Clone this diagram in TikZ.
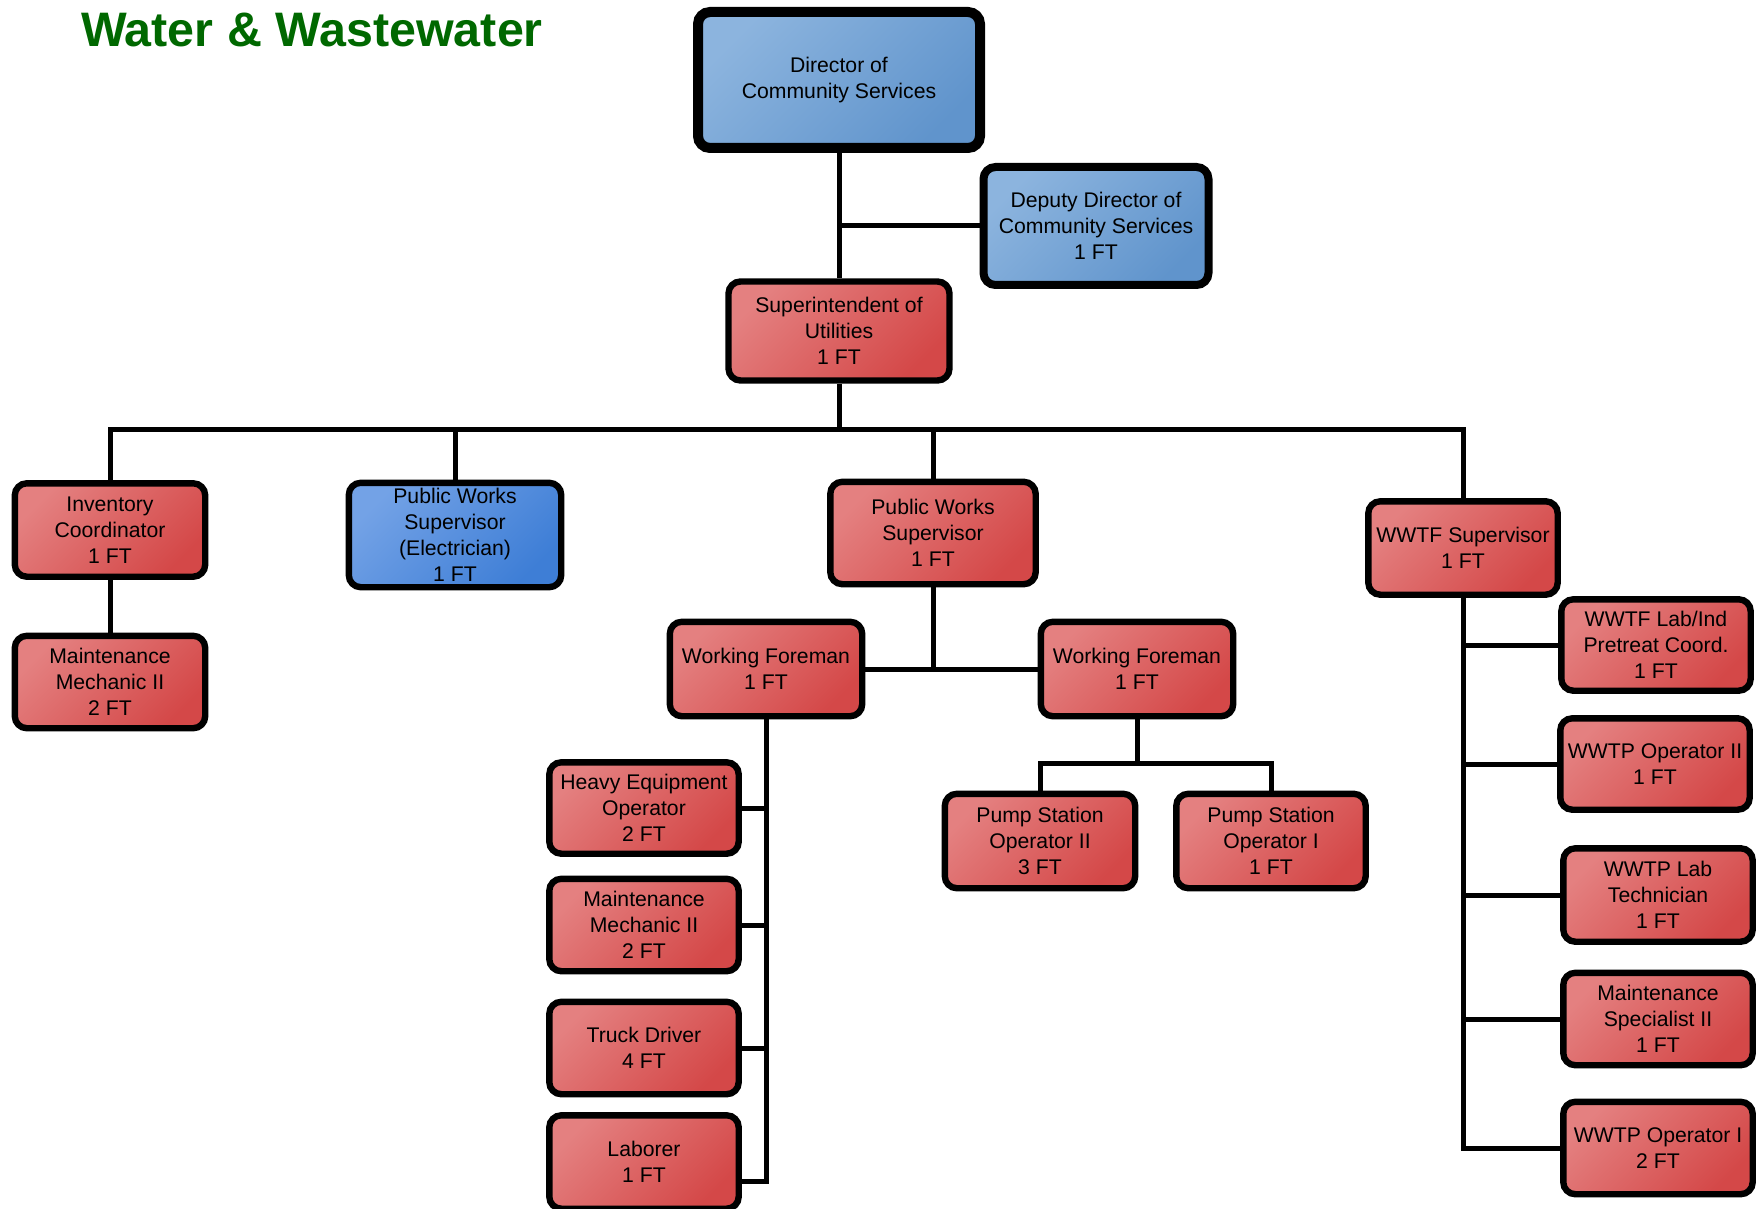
\documentclass[tikz,border=0pt]{standalone}
\usepackage{fontspec}
\setmainfont{Liberation Sans}
\definecolor{redA}{RGB}{228,128,128}
\definecolor{redB}{RGB}{212,72,72}
\definecolor{blueA}{RGB}{140,180,222}
\definecolor{blueB}{RGB}{96,148,204}
\definecolor{elecA}{RGB}{115,162,230}
\definecolor{elecB}{RGB}{62,126,214}
\definecolor{titlegreen}{RGB}{0,104,0}
\tikzset{
  box/.style={draw=black, line width=3.2pt, rounded corners=6pt, align=center,
    inner sep=0pt, font=\fontsize{10.6}{12.9}\selectfont, text=black},
  redbox/.style={box, top color=redA, bottom color=redB, shading angle=45},
  bluebox/.style={box, top color=blueA, bottom color=blueB, shading angle=45},
  elecbox/.style={box, top color=elecA, bottom color=elecB, shading angle=45},
  conn/.style={draw=black, line width=2.5pt},
}
\begin{document}
\begin{tikzpicture}[x=0.5pt, y=-0.5pt]
\useasboundingbox (0,0) rectangle (1762,1209);

\node[anchor=base west, text=titlegreen, font=\fontsize{24.2}{28}\selectfont\bfseries] (title) at (74,47) {Water \& Wastewater};

% top
\node[bluebox, line width=5pt, minimum width=141pt, minimum height=68pt] (dir) at (839,80) {Director of\\Community Services};
\node[bluebox, line width=4pt, minimum width=112.5pt, minimum height=59pt] (dep) at (1096,226) {Deputy Director of\\Community Services\\1 FT};
\node[redbox, minimum width=110.5pt, minimum height=49.5pt] (sup) at (839,331) {Superintendent of\\Utilities\\1 FT};

% second level
\node[redbox, minimum width=95.2pt, minimum height=46.7pt] (inv) at (110,530) {Inventory\\Coordinator\\1 FT};
\node[redbox, minimum width=95.2pt, minimum height=46.2pt] (mm1) at (110,682) {Maintenance\\Mechanic II\\2 FT};
\node[elecbox, minimum width=106.2pt, minimum height=52.2pt] (elec) at (455,535) {Public Works\\Supervisor\\(Electrician)\\1 FT};
\node[redbox, minimum width=102.7pt, minimum height=51.2pt] (pws) at (933,533) {Public Works\\Supervisor\\1 FT};
\node[redbox, minimum width=94.7pt, minimum height=46.7pt] (wwtf) at (1463,548) {WWTF Supervisor\\1 FT};

% foremen
\node[redbox, minimum width=96.2pt, minimum height=47.2pt] (wf1) at (766,669) {Working Foreman\\1 FT};
\node[redbox, minimum width=96.2pt, minimum height=47.2pt] (wf2) at (1137,669) {Working Foreman\\1 FT};

% pump stations
\node[redbox, minimum width=95.2pt, minimum height=47.2pt] (ps2) at (1040,841) {Pump Station\\Operator II\\3 FT};
\node[redbox, minimum width=94.7pt, minimum height=47.2pt] (ps1) at (1271,841) {Pump Station\\Operator I\\1 FT};

% left column under foreman
\node[redbox, minimum width=94.7pt, minimum height=45.7pt] (heo) at (644,808) {Heavy Equipment\\Operator\\2 FT};
\node[redbox, minimum width=94.7pt, minimum height=46.2pt] (mm2) at (644,925) {Maintenance\\Mechanic II\\2 FT};
\node[redbox, minimum width=94.7pt, minimum height=46.2pt] (td) at (644,1048) {Truck Driver\\4 FT};
\node[redbox, minimum width=94.7pt, minimum height=46.7pt] (lab) at (644,1162) {Laborer\\1 FT};

% right column under WWTF
\node[redbox, minimum width=94.7pt, minimum height=45.7pt] (labc) at (1656,645) {WWTF Lab/Ind\\Pretreat Coord.\\1 FT};
\node[redbox, minimum width=94.7pt, minimum height=45.7pt] (op2) at (1655,764) {WWTP Operator II\\1 FT};
\node[redbox, minimum width=94.7pt, minimum height=46.7pt] (tech) at (1658,895) {WWTP Lab\\Technician\\1 FT};
\node[redbox, minimum width=94.7pt, minimum height=46.2pt] (spec) at (1658,1019) {Maintenance\\Specialist II\\1 FT};
\node[redbox, minimum width=94.7pt, minimum height=46.2pt] (op1) at (1658,1148) {WWTP Operator I\\2 FT};

% connectors
\coordinate (bus) at (839,429);
\coordinate (psbus) at (1137,763);
\coordinate (labj) at ([yshift=-9.5pt]lab.east);
\draw[conn] (dir.south) -- (sup.north);
\draw[conn] (dir.south |- dep.west) -- (dep.west);
\draw[conn] (sup.south) -- (bus);
\draw[conn] (inv.north) -- (inv.north |- bus) -- (wwtf.north |- bus) -- (wwtf.north);
\draw[conn] (elec.north) -- (elec.north |- bus);
\draw[conn] (pws.north) -- (pws.north |- bus);
\draw[conn] (inv.south) -- (mm1.north);
\draw[conn] (pws.south) -- (pws.south |- wf1.east);
\draw[conn] (wf1.east) -- (wf2.west);
\draw[conn] (wf2.south) -- (psbus);
\draw[conn] (ps2.north) -- (ps2.north |- psbus) -- (ps1.north |- psbus) -- (ps1.north);
\draw[conn] (wf1.south) -- (wf1.south |- labj) -- (labj);
\draw[conn] (heo.east) -- (wf1.south |- heo.east);
\draw[conn] (mm2.east) -- (wf1.south |- mm2.east);
\draw[conn] (td.east) -- (wf1.south |- td.east);
\draw[conn] (wwtf.south) -- (wwtf.south |- op1.west) -- (op1.west);
\draw[conn] (labc.west) -- (wwtf.south |- labc.west);
\draw[conn] (op2.west) -- (wwtf.south |- op2.west);
\draw[conn] (tech.west) -- (wwtf.south |- tech.west);
\draw[conn] (spec.west) -- (wwtf.south |- spec.west);
\end{tikzpicture}
\end{document}
